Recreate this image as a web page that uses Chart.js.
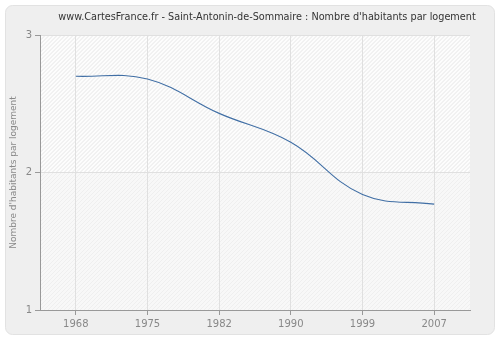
<!DOCTYPE html>
<html>
<head>
<meta charset="utf-8">
<script src="https://cdn.jsdelivr.net/npm/chart.js@4"></script>
<style>
  html, body { margin: 0; padding: 0; background: #fff; }
  #wrap { width: 500px; height: 340px; }
</style>
</head>
<body>
<div id="wrap"><canvas id="myChart" width="500" height="340"></canvas></div>
<script>
const years = ['1968', '1975', '1982', '1990', '1999', '2007'];
const habitantsParLogement = [2.70, 2.68, 2.43, 2.22, 1.84, 1.77];
const yTicks = [1, 2, 3];
const chartTitle = "www.CartesFrance.fr - Saint-Antonin-de-Sommaire : Nombre d'habitants par logement";

const FONT = 'DejaVu Sans, Verdana, sans-serif';

// frame, hatched plot background and title
const decor = {
    id: 'decor',
    beforeDraw(chart) {
        const ctx = chart.ctx;
        ctx.save();
        ctx.fillStyle = '#fff';
        ctx.fillRect(0, 0, chart.width, chart.height);
        ctx.beginPath();
        ctx.roundRect(5.5, 5.5, chart.width - 11, chart.height - 11, 7);
        ctx.fillStyle = '#efefef';
        ctx.fill();
        ctx.strokeStyle = '#e2e2e2';
        ctx.lineWidth = 1;
        ctx.stroke();

        const a = chart.chartArea;
        const yMid = chart.scales.y.getPixelForValue(2);
        ctx.beginPath();
        ctx.rect(a.left, a.top, a.right - a.left, a.bottom - a.top);
        ctx.clip();
        ctx.fillStyle = '#fdfdfd';
        ctx.fillRect(a.left, a.top, a.right - a.left, yMid - a.top);
        ctx.fillStyle = '#f8f8f8';
        ctx.fillRect(a.left, yMid, a.right - a.left, a.bottom - yMid);
        ctx.lineWidth = 1;
        for (let x = a.left - 300; x < a.right; x += 4) {
            ctx.strokeStyle = '#e6e6e6';
            ctx.beginPath();
            ctx.moveTo(x, yMid);
            ctx.lineTo(x + (yMid - a.top), a.top);
            ctx.stroke();
            ctx.strokeStyle = '#efefef';
            ctx.beginPath();
            ctx.moveTo(x, a.bottom);
            ctx.lineTo(x + (a.bottom - yMid), yMid);
            ctx.stroke();
        }
        ctx.restore();
    },
    afterDraw(chart) {
        const ctx = chart.ctx;
        ctx.save();
        ctx.font = '9.7px ' + FONT;
        ctx.fillStyle = '#333';
        ctx.textAlign = 'center';
        ctx.textBaseline = 'middle';
        ctx.fillText(chartTitle, 267, 17);
        ctx.restore();
    }
};

new Chart(document.getElementById('myChart'), {
    type: 'line',
    data: {
        labels: years,
        datasets: [{
            data: habitantsParLogement,
            borderColor: '#416fa5',
            borderWidth: 1.1,
            pointRadius: 0,
            fill: false,
            tension: 0.4
        }]
    },
    options: {
        responsive: false,
        animation: false,
        layout: { padding: { left: 0, right: 30, top: 35, bottom: 0 } },
        plugins: {
            legend: { display: false },
            title: { display: false },
            tooltip: { enabled: false }
        },
        scales: {
            x: {
                offset: true,
                afterFit: s => { s.height = 30; },
                border: { color: '#999', width: 1 },
                grid: {
                    offset: false,
                    color: '#e0e0e0',
                    borderDash: [5, 4],
                    tickColor: '#999',
                    tickLength: 5,
                    tickBorderDash: []
                },
                ticks: { color: '#888', font: { family: FONT, size: 10 }, padding: 3 }
            },
            y: {
                min: 1,
                max: 3,
                afterFit: s => { s.width = 40; },
                afterBuildTicks: s => { s.ticks = yTicks.map(v => ({ value: v })); },
                border: { color: '#999', width: 1 },
                grid: {
                    color: '#e0e0e0',
                    borderDash: [5, 4],
                    tickColor: '#999',
                    tickLength: 5,
                    tickBorderDash: []
                },
                ticks: { color: '#888', font: { family: FONT, size: 10 }, padding: 3 },
                title: {
                    display: true,
                    text: "Nombre d'habitants par logement",
                    color: '#888',
                    font: { family: FONT, size: 9 },
                    padding: { top: 8, bottom: 0 }
                }
            }
        }
    },
    plugins: [decor]
});
</script>
</body>
</html>
